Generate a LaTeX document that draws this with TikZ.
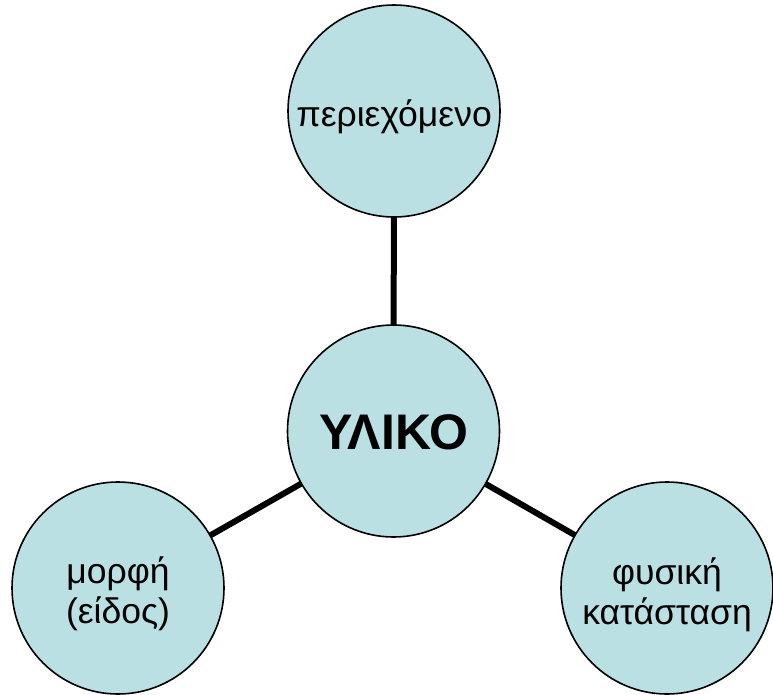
\documentclass[tikz,border=0pt]{standalone}
\usepackage{fontspec}
\setmainfont{Liberation Sans}
\usetikzlibrary{backgrounds}
\definecolor{fillc}{HTML}{BBE0E3}
\begin{document}
\begin{tikzpicture}[x=1pt,y=-1pt,
  bub/.style={circle,draw=black,line width=1.6pt,fill=fillc,minimum size=212pt,inner sep=0pt},
  txt/.style={inner sep=0pt,align=center,font=\fontsize{35.5}{40}\selectfont},
  hubtxt/.style={inner sep=0pt,font=\fontsize{50}{54}\selectfont\bfseries},
  link/.style={line width=6pt,black}]
\useasboundingbox (0,0) rectangle (773,695);
\node[bub] (c) at (393.5,431) {};
\node[bub] (t) at (394,111) {};
\node[bub] (l) at (118,588) {};
\node[bub] (r) at (667,588) {};
\node[hubtxt,yshift=-1pt] (ct) at (c.center) {ΥΛΙΚΟ};
\node[txt,yshift=-6pt] (tt) at (t.center) {περιεχόμενο};
\node[txt,yshift=-6pt] (lt) at (l.center) {μορφή\\(είδος)};
\node[txt,yshift=-7pt] (rt) at (r.center) {φυσική\\κατάσταση};
\begin{scope}[on background layer]
\draw[link] (c.center) -- (t.center);
\draw[link] (c.center) -- (l.center);
\draw[link] (c.center) -- (r.center);
\end{scope}
\end{tikzpicture}
\end{document}
